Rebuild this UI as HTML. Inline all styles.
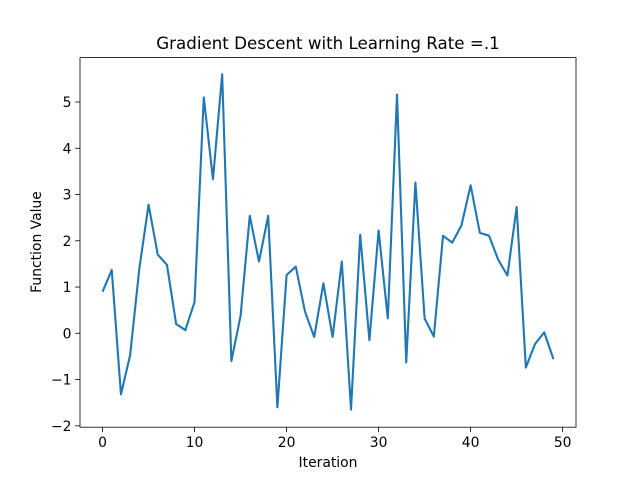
<!DOCTYPE html>
<html><head><meta charset="utf-8"><style>
body{margin:0;background:#fff}
svg text{font-family:"DejaVu Sans","Liberation Sans",sans-serif;fill:#000}
</style></head><body>
<svg id="c" width="640" height="480" xmlns="http://www.w3.org/2000/svg"></svg>
<script>
const iterations=[];for(let i=0;i<50;i++)iterations.push(i);
const values=[0.9,1.37,-1.32,-0.47,1.4,2.78,1.7,1.48,0.2,0.07,0.68,5.1,3.33,5.6,-0.6,0.38,2.54,1.55,2.54,-1.6,1.26,1.44,0.47,-0.08,1.08,-0.08,1.55,-1.65,2.13,-0.15,2.22,0.32,5.16,-0.63,3.26,0.32,-0.07,2.11,1.96,2.33,3.2,2.17,2.11,1.59,1.25,2.73,-0.74,-0.23,0.02,-0.56];
const xTicks=[0,10,20,30,40,50];
const yTicks=[-2,-1,0,1,2,3,4,5];
const L=80,R=576,T=57.6,B=427.2;
const xmin=-2.45,xmax=51.45,ymin=-2.03,ymax=5.96;
const sx=v=>L+(v-xmin)/(xmax-xmin)*(R-L);
const sy=v=>B-(v-ymin)/(ymax-ymin)*(B-T);
const svg=document.getElementById('c');const NS='http://www.w3.org/2000/svg';
function mk(t,a,txt){const e=document.createElementNS(NS,t);for(const k in a)e.setAttribute(k,a[k]);if(txt!==undefined)e.textContent=txt;svg.appendChild(e);return e;}
let e=mk('rect',{x:L,y:T,width:R-L,height:B-T,fill:'none',stroke:'#000','stroke-width':0.8});


xTicks.forEach(t=>{const x=sx(t);
 e=mk('line',{x1:x,x2:x,y1:B,y2:B+4.9,stroke:'#000','stroke-width':0.8});
 
 
 e=mk('text',{x:x,y:B+20,'text-anchor':'middle','font-size':13.9},t);
 
 });
yTicks.forEach(t=>{const y=sy(t);
 e=mk('line',{x1:L-4.9,x2:L,y1:y,y2:y,stroke:'#000','stroke-width':0.8});
 
 
 e=mk('text',{x:L-8.5,y:y+5,'text-anchor':'end','font-size':13.9},t<0?'\u2212'+(-t):t);
 
 });
const pts=values.map((v,i)=>sx(iterations[i]).toFixed(2)+','+sy(v).toFixed(2)).join(' ');
e=mk('polyline',{points:pts,fill:'none',stroke:'#1f77b4','stroke-width':2.1,'stroke-linejoin':'round'});


e=mk('text',{x:(L+R)/2,y:49,'text-anchor':'middle','font-size':16.7},'Gradient Descent with Learning Rate =.1');


e=mk('text',{x:(L+R)/2,y:467,'text-anchor':'middle','font-size':13.9},'Iteration');


e=mk('text',{x:41,y:242,'text-anchor':'middle','font-size':13.9,transform:'rotate(-90 41 242)'},'Function Value');


</script>
</body></html>
